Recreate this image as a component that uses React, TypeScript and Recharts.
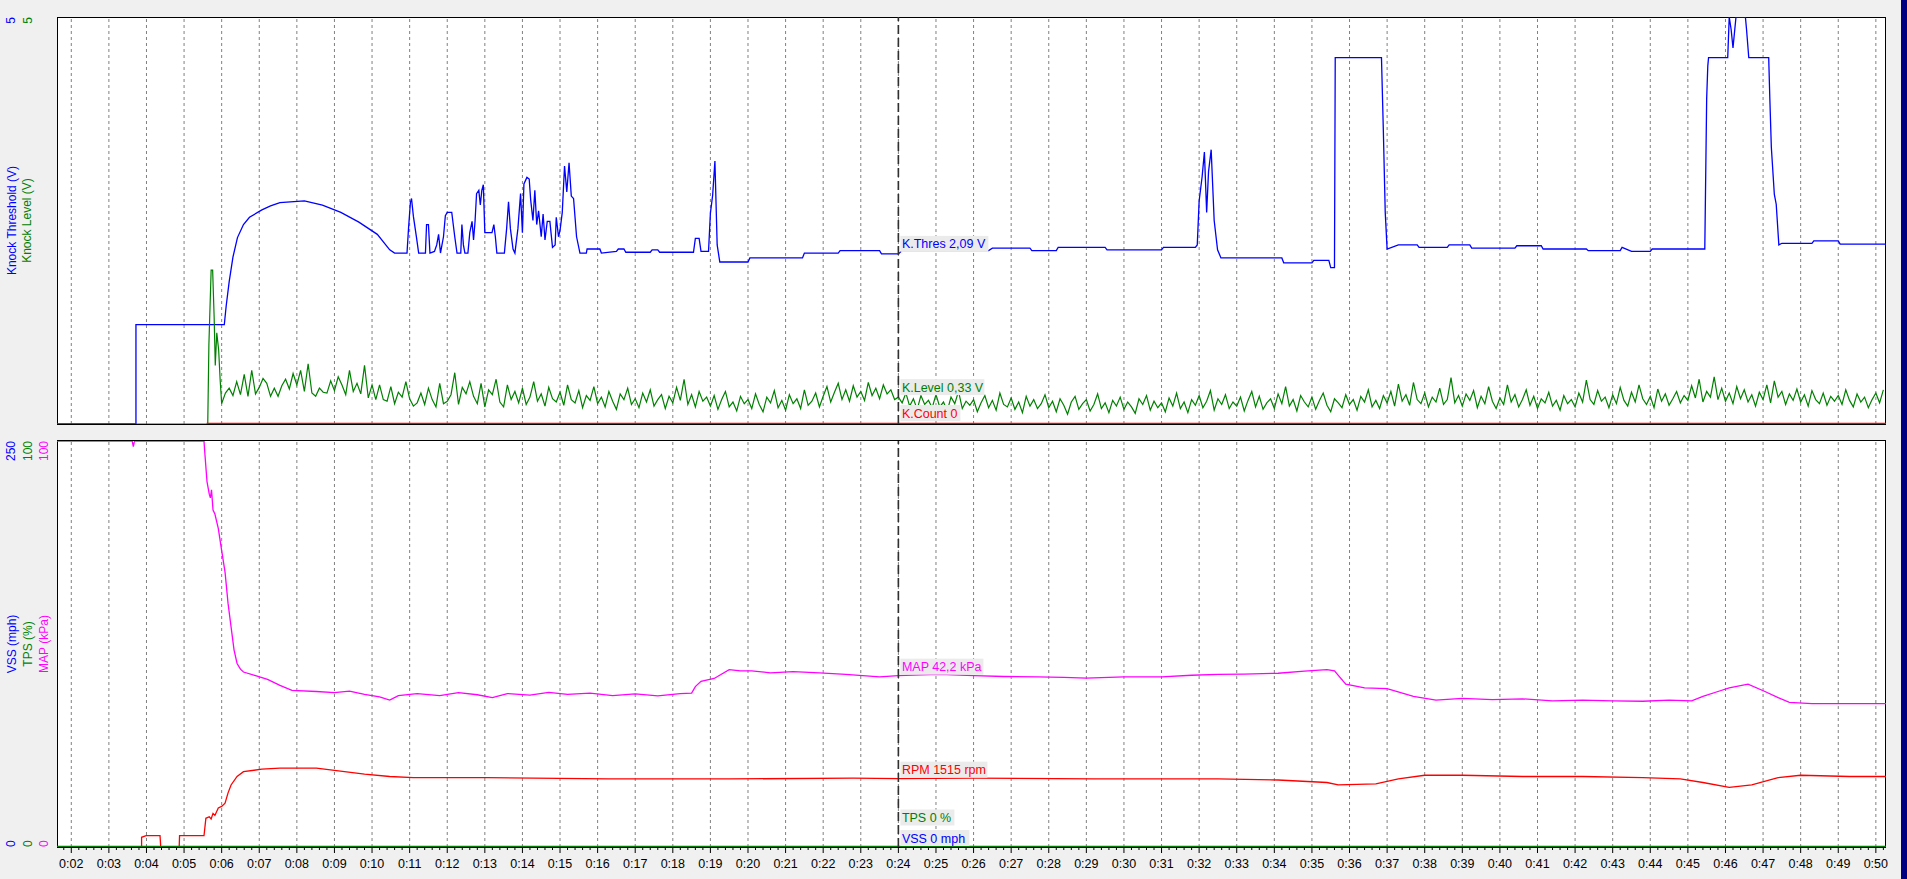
import React from "react";
import {
  LineChart,
  Line,
  XAxis,
  YAxis,
  ReferenceLine,
  ReferenceDot,
} from "recharts";

const FONT = '"Liberation Sans", Arial, sans-serif';

const BLUE = "#0000ff";
const GREEN = "#008000";
const RED = "#ff0000";
const MAGENTA = "#ff00ff";

// time axis, seconds
const X_DOMAIN: [number, number] = [1.62, 50.27];
const MAJOR_SECONDS = Array.from({ length: 49 }, (_, i) => i + 2);
const ALL_TICKS = Array.from({ length: 243 }, (_, i) => Math.round((9 + i) * 2) / 10);
const CURSOR_T = 24;

// Knock Threshold (V): [time, value]
const THRES_PTS: [number, number][] = [
  [1.62, 0], [3.72, 0], [3.72, 1.22], [6.07, 1.22], [6.12, 1.45], [6.2, 1.75], [6.3, 2.05],
  [6.42, 2.29], [6.58, 2.45], [6.74, 2.54], [7.07, 2.63], [7.3, 2.68], [7.55, 2.72], [8.2, 2.74],
  [8.68, 2.69], [9.17, 2.6], [9.65, 2.48], [10.14, 2.33], [10.47, 2.14], [10.6, 2.1],
  [10.93, 2.1], [10.97, 2.4], [11.02, 2.72], [11.05, 2.77], [11.1, 2.55], [11.18, 2.3], [11.24, 2.1],
  [11.42, 2.1], [11.45, 2.45], [11.5, 2.45], [11.54, 2.1], [11.66, 2.12], [11.72, 2.2], [11.77, 2.33],
  [11.82, 2.1], [11.9, 2.3], [11.95, 2.56], [12.0, 2.6], [12.12, 2.6], [12.2, 2.3], [12.26, 2.1],
  [12.36, 2.1], [12.39, 2.45], [12.43, 2.2], [12.47, 2.1], [12.55, 2.1], [12.6, 2.35], [12.66, 2.49],
  [12.7, 2.26], [12.74, 2.49], [12.78, 2.83], [12.84, 2.87], [12.88, 2.69], [12.92, 2.87], [12.96, 2.94],
  [13.0, 2.35], [13.19, 2.35], [13.24, 2.45], [13.28, 2.3], [13.32, 2.1], [13.52, 2.1], [13.58, 2.4],
  [13.63, 2.73], [13.68, 2.4], [13.75, 2.15], [13.8, 2.1], [13.88, 2.4], [13.95, 2.83], [14.0, 2.35],
  [14.04, 2.95], [14.12, 3.03], [14.18, 3.01], [14.22, 2.75], [14.28, 2.5], [14.33, 2.87], [14.38, 2.45],
  [14.43, 2.62], [14.5, 2.3], [14.55, 2.58], [14.6, 2.26], [14.66, 2.49], [14.73, 2.49], [14.8, 2.17],
  [14.87, 2.2], [14.9, 2.54], [14.96, 2.3], [15.0, 2.38], [15.06, 2.6], [15.12, 3.17], [15.18, 2.85],
  [15.24, 3.21], [15.3, 2.8], [15.36, 2.77], [15.44, 2.3], [15.53, 2.1], [15.7, 2.1], [15.72, 2.15],
  [16.06, 2.15], [16.1, 2.1], [16.5, 2.12], [16.55, 2.15], [16.7, 2.15], [16.75, 2.11], [17.4, 2.11],
  [17.45, 2.14], [17.6, 2.14], [17.65, 2.11], [18.55, 2.11], [18.6, 2.28], [18.7, 2.28], [18.75, 2.12],
  [18.95, 2.12], [19.0, 2.59], [19.06, 2.81], [19.12, 3.23], [19.18, 2.2], [19.25, 1.99], [20.0, 1.99],
  [20.05, 2.04], [21.45, 2.04], [21.5, 2.1], [22.4, 2.1], [22.45, 2.13], [23.5, 2.13], [23.55, 2.09],
  [24.0, 2.09], [24.1, 2.13], [26.4, 2.13], [26.5, 2.16], [27.5, 2.16], [27.55, 2.13], [28.2, 2.13],
  [28.25, 2.17], [29.5, 2.17], [29.55, 2.14], [31.0, 2.14], [31.05, 2.17], [31.9, 2.17], [31.95, 2.2],
  [32.0, 2.74], [32.08, 3.04], [32.14, 3.34], [32.2, 2.6], [32.25, 3.1], [32.32, 3.37], [32.4, 2.5],
  [32.49, 2.14], [32.58, 2.04], [34.2, 2.04], [34.25, 1.98], [35.0, 1.98], [35.05, 2.01], [35.45, 2.01],
  [35.5, 1.92], [35.6, 1.92], [35.62, 4.5], [36.85, 4.5], [36.9, 3.6], [36.95, 2.6], [37.0, 2.15],
  [37.3, 2.2], [37.8, 2.2], [37.85, 2.17], [38.6, 2.17], [38.65, 2.2], [39.2, 2.2], [39.25, 2.16],
  [40.4, 2.16], [40.45, 2.19], [41.1, 2.19], [41.15, 2.15], [42.3, 2.15], [42.35, 2.13], [43.2, 2.13],
  [43.25, 2.17], [43.5, 2.12], [44.0, 2.12], [44.05, 2.15], [45.45, 2.15], [45.5, 4.0], [45.53, 4.4],
  [45.55, 4.5], [46.06, 4.5], [46.1, 5.0], [46.15, 4.85], [46.2, 4.62], [46.28, 5.0], [46.53, 5.0],
  [46.56, 4.85], [46.62, 4.5], [47.15, 4.5], [47.18, 4.0], [47.22, 3.4], [47.3, 2.82], [47.35, 2.7],
  [47.42, 2.2], [47.5, 2.22], [48.3, 2.22], [48.35, 2.25], [49.0, 2.25], [49.05, 2.21], [50.27, 2.21],
];

// Knock Level (V): start-up spike, then 0.1 s samples from 6.0 s
const LEVEL_PRE: [number, number][] = [
  [1.62, 0], [5.63, 0], [5.66, 0.97], [5.72, 1.89], [5.76, 1.89], [5.8, 1.31],
  [5.83, 0.72], [5.87, 1.12], [5.92, 0.91], [5.96, 0.54],
];
const LEVEL_START = 6.0;
const LEVEL_STEP = 0.1;
const LEVEL_NOISE = [
  0.25, 0.38, 0.44, 0.35, 0.52, 0.36, 0.61, 0.34, 0.66, 0.37,
  0.45, 0.56, 0.50, 0.34, 0.44, 0.34, 0.47, 0.55, 0.43, 0.62,
  0.48, 0.66, 0.40, 0.74, 0.38, 0.34, 0.44, 0.39, 0.38, 0.53,
  0.41, 0.58, 0.48, 0.36, 0.66, 0.40, 0.50, 0.37, 0.72, 0.32,
  0.48, 0.30, 0.48, 0.30, 0.28, 0.46, 0.25, 0.39, 0.33, 0.52,
  0.31, 0.22, 0.26, 0.38, 0.24, 0.44, 0.30, 0.21, 0.50, 0.25,
  0.28, 0.36, 0.63, 0.24, 0.45, 0.37, 0.52, 0.34, 0.25, 0.50,
  0.21, 0.42, 0.36, 0.55, 0.27, 0.21, 0.48, 0.30, 0.40, 0.26,
  0.44, 0.24, 0.33, 0.52, 0.28, 0.37, 0.22, 0.45, 0.31, 0.27,
  0.39, 0.23, 0.48, 0.30, 0.26, 0.41, 0.20, 0.35, 0.29, 0.46,
  0.25, 0.33, 0.21, 0.40, 0.28, 0.18, 0.37, 0.30, 0.44, 0.24,
  0.31, 0.20, 0.38, 0.27, 0.42, 0.22, 0.30, 0.36, 0.19, 0.34,
  0.26, 0.45, 0.29, 0.55, 0.24, 0.36, 0.21, 0.40, 0.28, 0.33,
  0.22, 0.35, 0.18, 0.30, 0.40, 0.21, 0.27, 0.16, 0.34, 0.25,
  0.30, 0.19, 0.37, 0.24, 0.15, 0.33, 0.26, 0.41, 0.20, 0.29,
  0.17, 0.36, 0.25, 0.31, 0.19, 0.42, 0.23, 0.28, 0.38, 0.21,
  0.34, 0.46, 0.27, 0.39, 0.50, 0.30, 0.42, 0.28, 0.47, 0.33,
  0.40, 0.29, 0.51, 0.35, 0.44, 0.31, 0.48, 0.37, 0.42, 0.30,
  0.33, 0.26, 0.38, 0.22, 0.31, 0.18, 0.35, 0.24, 0.29, 0.20,
  0.36, 0.21, 0.27, 0.16, 0.33, 0.25, 0.40, 0.19, 0.28, 0.23,
  0.30, 0.15, 0.26, 0.35, 0.20, 0.29, 0.17, 0.38, 0.24, 0.21,
  0.32, 0.18, 0.27, 0.14, 0.34, 0.22, 0.30, 0.19, 0.25, 0.36,
  0.20, 0.28, 0.15, 0.31, 0.23, 0.12, 0.27, 0.34, 0.18, 0.25,
  0.30, 0.16, 0.24, 0.37, 0.19, 0.26, 0.14, 0.29, 0.22, 0.33,
  0.18, 0.27, 0.21, 0.13, 0.31, 0.24, 0.35, 0.17, 0.28, 0.20,
  0.26, 0.15, 0.32, 0.22, 0.38, 0.19, 0.27, 0.14, 0.30, 0.23,
  0.35, 0.20, 0.28, 0.41, 0.17, 0.31, 0.24, 0.36, 0.19, 0.27,
  0.22, 0.33, 0.16, 0.29, 0.40, 0.21, 0.34, 0.18, 0.26, 0.31,
  0.19, 0.37, 0.25, 0.46, 0.22, 0.30, 0.16, 0.35, 0.27, 0.21,
  0.33, 0.18, 0.29, 0.38, 0.23, 0.15, 0.31, 0.26, 0.20, 0.36,
  0.24, 0.30, 0.17, 0.34, 0.27, 0.42, 0.21, 0.29, 0.19, 0.35,
  0.26, 0.40, 0.22, 0.49, 0.28, 0.36, 0.23, 0.51, 0.30, 0.25,
  0.38, 0.21, 0.33, 0.27, 0.44, 0.24, 0.30, 0.57, 0.26, 0.35,
  0.22, 0.37, 0.29, 0.41, 0.20, 0.34, 0.25, 0.46, 0.28, 0.19,
  0.32, 0.24, 0.48, 0.27, 0.36, 0.21, 0.30, 0.42, 0.23, 0.34,
  0.19, 0.31, 0.26, 0.39, 0.22, 0.29, 0.17, 0.35, 0.25, 0.30,
  0.21, 0.38, 0.27, 0.54, 0.30, 0.24, 0.41, 0.28, 0.33, 0.20,
  0.36, 0.25, 0.45, 0.29, 0.22, 0.39, 0.27, 0.48, 0.31, 0.24,
  0.34, 0.20, 0.43, 0.28, 0.37, 0.23, 0.31, 0.40, 0.26, 0.35,
  0.29, 0.47, 0.32, 0.55, 0.27, 0.40, 0.33, 0.58, 0.30, 0.44,
  0.28, 0.38, 0.25, 0.46, 0.31, 0.42, 0.27, 0.36, 0.22, 0.39,
  0.30, 0.48, 0.26, 0.53, 0.33, 0.40, 0.24, 0.37, 0.29, 0.43,
  0.27, 0.36, 0.22, 0.41, 0.30, 0.25, 0.38, 0.23, 0.34, 0.28,
  0.35, 0.24, 0.42, 0.29, 0.21, 0.37, 0.27, 0.33, 0.20, 0.30,
  0.38, 0.26, 0.42,
];

// Knock Count
const COUNT_PTS: [number, number][] = [[5.6, 0], [50.27, 0]];

// MAP (kPa)
const MAP_PTS: [number, number][] = [
  [1.62, 100], [3.62, 100], [3.65, 98.6], [3.68, 100], [5.53, 100], [5.55, 97.3], [5.61, 90],
  [5.67, 86.9], [5.7, 86], [5.73, 88], [5.77, 83], [5.82, 82], [5.91, 78.5], [6.0, 73], [6.09, 67.7],
  [6.17, 60], [6.25, 54.2], [6.33, 48.5], [6.41, 45.2], [6.5, 43.8], [6.58, 43.1], [6.9, 42.2],
  [7.22, 41.3], [7.55, 39.8], [7.87, 38.6], [8.52, 38.3], [9.0, 38.0], [9.4, 38.4], [9.8, 37.6],
  [10.2, 37.0], [10.47, 36.2], [10.7, 37.3], [11.2, 37.8], [11.8, 37.3], [12.3, 38.0], [12.8, 37.5],
  [13.2, 36.8], [13.6, 37.8], [14.2, 37.4], [14.7, 38.1], [15.2, 37.6], [15.8, 37.9], [16.4, 37.3],
  [17.0, 37.7], [17.6, 37.2], [18.2, 37.8], [18.5, 37.9], [18.6, 39.5], [18.75, 40.8], [19.1, 41.5],
  [19.5, 43.7], [19.8, 43.4], [20.1, 43.4], [20.6, 42.9], [21.2, 43.2], [21.9, 42.9], [22.6, 42.5],
  [23.5, 41.9], [24.0, 42.2], [24.6, 42.4], [25.1, 42.5], [26.0, 42.2], [26.8, 42.0], [27.7, 41.9],
  [28.4, 41.8], [29.0, 41.6], [30.0, 41.9], [31.0, 41.9], [31.8, 42.3], [32.5, 42.5], [33.2, 42.6],
  [34.1, 42.8], [34.8, 43.3], [35.4, 43.7], [35.6, 43.4], [35.9, 40.1], [36.4, 39.2], [37.0, 39.0],
  [37.7, 37.1], [38.3, 36.2], [39.0, 36.6], [39.8, 36.3], [40.6, 36.5], [41.4, 36.0], [42.2, 36.2],
  [43.0, 36.0], [43.8, 35.9], [44.5, 36.2], [45.1, 36.0], [45.4, 37.1], [45.8, 38.3], [46.1, 39.2],
  [46.6, 40.1], [47.05, 38.3], [47.4, 36.8], [47.7, 35.6], [48.3, 35.3], [49.3, 35.3], [50.27, 35.3],
];

// RPM
const RPM_PTS: [number, number][] = [
  [1.62, 0], [3.87, 0], [3.87, 215], [3.99, 250], [4.36, 250], [4.38, 0], [4.87, 0], [4.88, 250],
  [5.53, 250], [5.58, 636], [5.67, 670], [5.72, 620], [5.77, 745], [5.82, 700], [5.91, 865],
  [6.0, 900], [6.09, 970], [6.17, 1200], [6.25, 1375], [6.41, 1563], [6.58, 1670], [7.07, 1725],
  [7.55, 1750], [8.52, 1750], [9.0, 1700], [9.8, 1617], [10.47, 1563], [11.1, 1536], [13.05, 1536],
  [16.3, 1509], [19.5, 1509], [22.8, 1525], [24.0, 1515], [26.0, 1525], [29.2, 1509], [32.5, 1509],
  [34.1, 1485], [35.4, 1430], [35.7, 1375], [36.7, 1400], [37.3, 1509], [38.0, 1590], [39.0, 1590],
  [40.6, 1563], [42.2, 1563], [43.8, 1536], [44.8, 1509], [45.4, 1430], [46.1, 1320], [46.7, 1375],
  [47.4, 1536], [48.0, 1590], [49.3, 1563], [50.27, 1563],
];

const TPS_PTS: [number, number][] = [[1.62, 0], [50.27, 0]];
const VSS_PTS: [number, number][] = [[1.62, 0], [50.27, 0]];

const toRows = (pts: [number, number][]) => pts.map(([t, v]) => ({ t, v }));

const thresRows = toRows(THRES_PTS);
const levelRows = toRows([
  ...LEVEL_PRE,
  ...LEVEL_NOISE.map((v, i) => [LEVEL_START + i * LEVEL_STEP, v] as [number, number]),
]);
const countRows = toRows(COUNT_PTS);
const mapRows = toRows(MAP_PTS);
const rpmRows = toRows(RPM_PTS);
const tpsRows = toRows(TPS_PTS);
const vssRows = toRows(VSS_PTS);

function fmtTime(v: number) {
  return `0:${String(Math.round(v)).padStart(2, "0")}`;
}

function RotTick(props: any) {
  const { y, payload, px, color } = props;
  const anchor = payload.value === 0 ? "start" : "end";
  return (
    <text
      x={px}
      y={y}
      transform={`rotate(-90 ${px} ${y})`}
      textAnchor={anchor}
      dominantBaseline="central"
      fill={color}
      fontSize={12}
      fontFamily={FONT}
    >
      {payload.value}
    </text>
  );
}

function AxisTitle(props: any) {
  const { viewBox, px, text, color, fallbackY } = props;
  const cy = viewBox && viewBox.height ? viewBox.y + viewBox.height / 2 : fallbackY;
  return (
    <text
      x={px}
      y={cy}
      transform={`rotate(-90 ${px} ${cy})`}
      textAnchor="middle"
      dominantBaseline="central"
      fill={color}
      fontSize={12}
      fontFamily={FONT}
    >
      {text}
    </text>
  );
}

function TimeTick(props: any) {
  const { x, y, payload } = props;
  const v = payload.value;
  const major = Math.abs(v - Math.round(v)) < 1e-6;
  return (
    <g>
      <line x1={x} x2={x} y1={y} y2={y + (major ? 6 : 3)} stroke="#000" />
      {major && (
        <text x={x} y={y + 20.5} textAnchor="middle" fontSize={12.5} fill="#000" fontFamily={FONT}>
          {fmtTime(v)}
        </text>
      )}
    </g>
  );
}

function tag(text: string, color: string, w: number, dy: number) {
  return (p: any) => {
    const top = p.cy + dy - 8;
    return (
      <g>
        <rect x={p.cx + 2} y={top} width={w} height={16} fill="#ebebeb" />
        <text x={p.cx + 3.5} y={top + 12.5} fill={color} fontSize={12.5} fontFamily={FONT}>
          {text}
        </text>
      </g>
    );
  };
}

function gridLines(yAxisId: string) {
  return MAJOR_SECONDS.map((s) => (
    <ReferenceLine
      key={`g${s}`}
      x={s}
      xAxisId="x"
      yAxisId={yAxisId}
      stroke="#808080"
      strokeDasharray="3 3"
    />
  ));
}

function cursorLine(yAxisId: string) {
  return (
    <ReferenceLine
      x={CURSOR_T}
      xAxisId="x"
      yAxisId={yAxisId}
      stroke="#303030"
      strokeWidth={1.6}
      strokeDasharray="9 4"
    />
  );
}

const plotBox: React.CSSProperties = {
  position: "absolute",
  left: 57,
  width: 1829,
  background: "#fff",
  border: "1px solid #000",
  boxSizing: "border-box",
};

export default function App() {
  return (
    <div
      style={{
        position: "absolute",
        left: 0,
        top: 0,
        width: 1907,
        height: 879,
        background: "#f0f0f0",
        overflow: "hidden",
        fontFamily: FONT,
      }}
    >
      <div style={{ ...plotBox, top: 17, height: 408 }} />
      <div style={{ ...plotBox, top: 440, height: 408 }} />

      <div style={{ position: "absolute", left: 0, top: 0 }}>
        <LineChart width={1907} height={430} margin={{ top: 17, right: 21, bottom: 6, left: 0 }}>
          <XAxis xAxisId="x" dataKey="t" type="number" domain={X_DOMAIN} allowDataOverflow hide />
          <YAxis
            yAxisId="lvl"
            domain={[0, 5]}
            ticks={[0, 5]}
            width={37}
            allowDataOverflow
            axisLine={false}
            tickLine={false}
            tick={<RotTick px={28} color={GREEN} />}
            label={<AxisTitle px={27} text="Knock Level (V)" color={GREEN} fallbackY={220} />}
          />
          <YAxis
            yAxisId="thr"
            domain={[0, 5]}
            ticks={[0, 5]}
            width={20}
            allowDataOverflow
            axisLine={false}
            tickLine={false}
            tick={<RotTick px={11} color={BLUE} />}
            label={<AxisTitle px={12} text="Knock Threshold (V)" color={BLUE} fallbackY={220} />}
          />
          {gridLines("thr")}
          <Line
            data={thresRows}
            xAxisId="x"
            yAxisId="thr"
            dataKey="v"
            type="linear"
            stroke={BLUE}
            strokeWidth={1.3}
            dot={false}
            isAnimationActive={false}
          />
          <Line
            data={levelRows}
            xAxisId="x"
            yAxisId="lvl"
            dataKey="v"
            type="linear"
            stroke={GREEN}
            strokeWidth={1.2}
            dot={false}
            isAnimationActive={false}
          />
          <Line
            data={countRows}
            xAxisId="x"
            yAxisId="thr"
            dataKey="v"
            type="linear"
            stroke={RED}
            strokeWidth={2.5}
            dot={false}
            isAnimationActive={false}
          />
          {cursorLine("thr")}
          <ReferenceDot x={CURSOR_T} y={2.09} xAxisId="x" yAxisId="thr" r={0} shape={tag("K.Thres 2,09 V", BLUE, 88, -10)} />
          <ReferenceDot x={CURSOR_T} y={0.33} xAxisId="x" yAxisId="lvl" r={0} shape={tag("K.Level 0,33 V", GREEN, 84, -10)} />
          <ReferenceDot x={CURSOR_T} y={0} xAxisId="x" yAxisId="thr" r={0} shape={tag("K.Count 0", RED, 60, -11)} />
        </LineChart>
      </div>

      <div style={{ position: "absolute", left: 0, top: 430 }}>
        <LineChart width={1907} height={449} margin={{ top: 11, right: 21, bottom: 0, left: 0 }}>
          <XAxis
            xAxisId="x"
            dataKey="t"
            type="number"
            domain={X_DOMAIN}
            allowDataOverflow
            ticks={ALL_TICKS}
            interval={0}
            height={32}
            axisLine={false}
            tickLine={false}
            tickSize={0}
            tickMargin={0}
            tick={<TimeTick />}
          />
          <YAxis
            yAxisId="map"
            domain={[0, 100]}
            ticks={[0, 100]}
            width={19}
            allowDataOverflow
            axisLine={false}
            tickLine={false}
            tick={<RotTick px={44} color={MAGENTA} />}
            label={<AxisTitle px={44} text="MAP (kPa)" color={MAGENTA} fallbackY={214} />}
          />
          <YAxis
            yAxisId="tps"
            domain={[0, 100]}
            ticks={[0, 100]}
            width={19}
            allowDataOverflow
            axisLine={false}
            tickLine={false}
            tick={<RotTick px={28} color={GREEN} />}
            label={<AxisTitle px={28} text="TPS (%)" color={GREEN} fallbackY={214} />}
          />
          <YAxis
            yAxisId="vss"
            domain={[0, 250]}
            ticks={[0, 250]}
            width={19}
            allowDataOverflow
            axisLine={false}
            tickLine={false}
            tick={<RotTick px={11} color={BLUE} />}
            label={<AxisTitle px={12} text="VSS (mph)" color={BLUE} fallbackY={214} />}
          />
          <YAxis yAxisId="rpm" domain={[0, 9000]} allowDataOverflow hide />
          {gridLines("map")}
          <Line
            data={mapRows}
            xAxisId="x"
            yAxisId="map"
            dataKey="v"
            type="linear"
            stroke={MAGENTA}
            strokeWidth={1.3}
            dot={false}
            isAnimationActive={false}
          />
          <Line
            data={rpmRows}
            xAxisId="x"
            yAxisId="rpm"
            dataKey="v"
            type="linear"
            stroke={RED}
            strokeWidth={1.3}
            dot={false}
            isAnimationActive={false}
          />
          <Line
            data={vssRows}
            xAxisId="x"
            yAxisId="vss"
            dataKey="v"
            type="linear"
            stroke={BLUE}
            strokeWidth={2}
            dot={false}
            isAnimationActive={false}
          />
          <Line
            data={tpsRows}
            xAxisId="x"
            yAxisId="tps"
            dataKey="v"
            type="linear"
            stroke={GREEN}
            strokeWidth={2.5}
            dot={false}
            isAnimationActive={false}
          />
          {cursorLine("map")}
          <ReferenceDot x={CURSOR_T} y={42.2} xAxisId="x" yAxisId="map" r={0} shape={tag("MAP 42,2 kPa", MAGENTA, 83, -9)} />
          <ReferenceDot x={CURSOR_T} y={1515} xAxisId="x" yAxisId="rpm" r={0} shape={tag("RPM 1515 rpm", RED, 87, -9)} />
          <ReferenceDot x={CURSOR_T} y={0} xAxisId="x" yAxisId="tps" r={0} shape={tag("TPS 0 %", GREEN, 54, -29.5)} />
          <ReferenceDot x={CURSOR_T} y={0} xAxisId="x" yAxisId="vss" r={0} shape={tag("VSS 0 mph", BLUE, 69, -9)} />
        </LineChart>
      </div>

      <div style={{ position: "absolute", left: 1901, top: 0, width: 6, height: 879, background: "#000080" }} />
    </div>
  );
}
